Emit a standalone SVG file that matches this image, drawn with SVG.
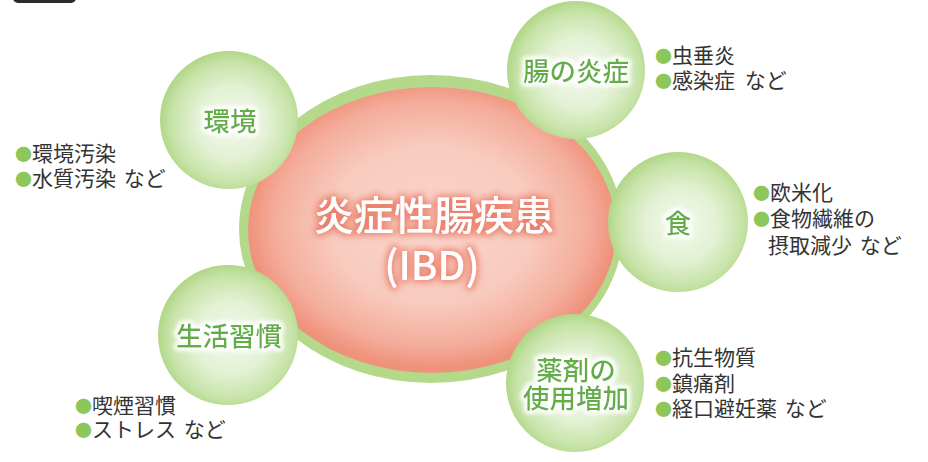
<svg xmlns="http://www.w3.org/2000/svg" width="928" height="462" viewBox="0 0 928 462">
<defs>
<radialGradient id="pink" cx="50%" cy="48%" r="50%">
<stop offset="0" stop-color="#fad5cc"/>
<stop offset="0.55" stop-color="#f8cbbf"/>
<stop offset="0.85" stop-color="#f4ad9b"/>
<stop offset="1" stop-color="#ef927c"/>
</radialGradient>
<radialGradient id="green" cx="52%" cy="52%" r="52%">
<stop offset="0" stop-color="#f3f9ec"/>
<stop offset="0.5" stop-color="#e3f1d4"/>
<stop offset="0.85" stop-color="#c6e3a7"/>
<stop offset="1" stop-color="#b1d787"/>
</radialGradient>
<filter id="glowPink" x="-20%" y="-40%" width="140%" height="180%">
<feMorphology in="SourceAlpha" operator="dilate" radius="2" result="d"/>
<feGaussianBlur in="d" stdDeviation="3.5" result="b"/>
<feFlood flood-color="#e8735c" flood-opacity="0.85"/>
<feComposite in2="b" operator="in" result="g"/>
<feMerge><feMergeNode in="g"/><feMergeNode in="SourceGraphic"/></feMerge>
</filter>
<filter id="glowWhite" x="-20%" y="-40%" width="140%" height="180%">
<feMorphology in="SourceAlpha" operator="dilate" radius="2" result="d"/>
<feGaussianBlur in="d" stdDeviation="2.5" result="b"/>
<feFlood flood-color="#ffffff" flood-opacity="1"/>
<feComposite in2="b" operator="in" result="g"/>
<feMerge><feMergeNode in="g"/><feMergeNode in="g"/><feMergeNode in="SourceGraphic"/></feMerge>
</filter>
</defs>
<style>
.circ{fill:url(#green)}
.ctext{font-family:"Noto Sans CJK JP","Noto Sans",sans-serif;font-size:26.5px;font-weight:500;fill:#62ae44;text-anchor:middle}
.list{font-family:"Noto Sans CJK JP","Noto Sans",sans-serif;font-size:21px;fill:#333333}
.b{fill:#8dc75a;font-size:17px}
.main{font-family:"Noto Sans CJK JP","Noto Sans",sans-serif;font-size:40px;font-weight:500;fill:#ffffff;text-anchor:middle}
</style>
<rect width="928" height="462" fill="#ffffff"/>
<rect x="13" y="-12" width="63" height="15" rx="5" fill="#2b2b2b"/>

<g id="ibd">
<ellipse cx="431" cy="229" rx="192" ry="154" fill="#b4d98b"/>
<ellipse cx="432" cy="230" rx="184" ry="143" fill="url(#pink)"/>
<g filter="url(#glowPink)">
<text class="main" x="434" y="230">炎症性腸疾患</text>
<text class="main" x="432" y="280">(IBD)</text>
</g>
</g>

<g id="kankyo">
<circle class="circ" cx="229" cy="120" r="69"/>
<text class="ctext" x="230" y="131" filter="url(#glowWhite)">環境</text>
</g>

<g id="chou">
<circle class="circ" cx="576" cy="70" r="69"/>
<text class="ctext" x="576" y="81" filter="url(#glowWhite)">腸の炎症</text>
</g>

<g id="shoku">
<circle class="circ" cx="678" cy="222" r="70"/>
<text class="ctext" x="678" y="233" filter="url(#glowWhite)">食</text>
</g>

<g id="seikatsu">
<circle class="circ" cx="228" cy="335" r="70"/>
<text class="ctext" x="229" y="346" filter="url(#glowWhite)">生活習慣</text>
</g>

<g id="yakuzai">
<circle class="circ" cx="575" cy="383" r="69"/>
<g filter="url(#glowWhite)">
<text class="ctext" x="576" y="380">薬剤の</text>
<text class="ctext" x="576" y="408">使用増加</text>
</g>
</g>

<g id="list-kankyo">
<text class="list" x="15" y="161"><tspan class="b">●</tspan>環境汚染</text>
<text class="list" x="15" y="186"><tspan class="b">●</tspan>水質汚染 <tspan dx="3">など</tspan></text>
</g>

<g id="list-chou">
<text class="list" x="655" y="63"><tspan class="b">●</tspan>虫垂炎</text>
<text class="list" x="655" y="88"><tspan class="b">●</tspan>感染症 <tspan dx="5">など</tspan></text>
</g>

<g id="list-shoku">
<text class="list" x="753" y="200"><tspan class="b">●</tspan>欧米化</text>
<text class="list" x="753" y="226"><tspan class="b">●</tspan>食物繊維の</text>
<text class="list" x="768" y="253">摂取減少 <tspan dx="3">など</tspan></text>
</g>

<g id="list-yakuzai">
<text class="list" x="655" y="365"><tspan class="b">●</tspan>抗生物質</text>
<text class="list" x="655" y="391"><tspan class="b">●</tspan>鎮痛剤</text>
<text class="list" x="655" y="416"><tspan class="b">●</tspan>経口避妊薬 <tspan dx="3">など</tspan></text>
</g>

<g id="list-seikatsu">
<text class="list" x="75" y="413"><tspan class="b">●</tspan>喫煙習慣</text>
<text class="list" x="75" y="437"><tspan class="b">●</tspan>ストレス <tspan dx="3">など</tspan></text>
</g>
</svg>
